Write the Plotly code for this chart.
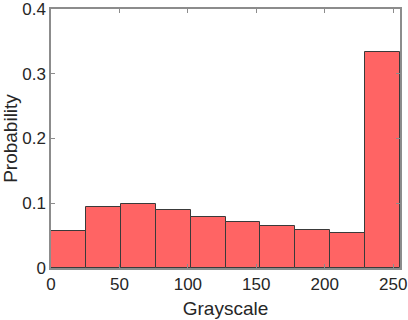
import plotly.graph_objects as go

# histogram bins (grayscale 0-255, 10 bins)
bin_edges = [0, 25.5, 51, 76.5, 102, 127.5, 153, 178.5, 204, 229.5, 255]
probability = [0.0567, 0.0935, 0.0996, 0.0889, 0.0782, 0.0716, 0.0644, 0.0593, 0.0547, 0.334]

x_ticks = [0, 50, 100, 150, 200, 250]
y_ticks = [0, 0.1, 0.2, 0.3, 0.4]

centers = [(bin_edges[i] + bin_edges[i + 1]) / 2 for i in range(len(probability))]
widths = [bin_edges[i + 1] - bin_edges[i] for i in range(len(probability))]

fig = go.Figure()
fig.add_trace(go.Bar(
    x=centers, y=probability, width=widths,
    marker=dict(color="#FF6464", line=dict(color="#3a3a3a", width=1)),
    showlegend=False,
))

axis_style = dict(
    showline=True, linecolor="#8c8c8c", linewidth=1.5, mirror="ticks",
    ticks="inside", ticklen=4, tickcolor="#8c8c8c",
    showgrid=False, zeroline=False, automargin=False, ticklabeloverflow="allow",
    tickfont=dict(family="Liberation Sans, Arial", size=17, color="#262626"),
    title_font=dict(family="Liberation Sans, Arial", size=19, color="#262626"),
)

fig.update_xaxes(range=[0, 255], tickvals=x_ticks, title_text="Grayscale",
                 title_standoff=9, **axis_style)
fig.update_yaxes(range=[0, 0.4], tickvals=y_ticks, ticktext=["0", "0.1", "0.2", "0.3", "0.4"],
                 title_text="Probability", title_standoff=7, **axis_style)

fig.update_layout(
    width=408, height=320,
    margin=dict(l=51, r=8, t=9, b=52),
    plot_bgcolor="white", paper_bgcolor="white",
    bargap=0,
)

# page body has a default 8px margin; drop it so the figure sits at 0,0
fig.write_html("out.html", config={"displayModeBar": False},
               post_script="document.body.style.margin='0px';")
